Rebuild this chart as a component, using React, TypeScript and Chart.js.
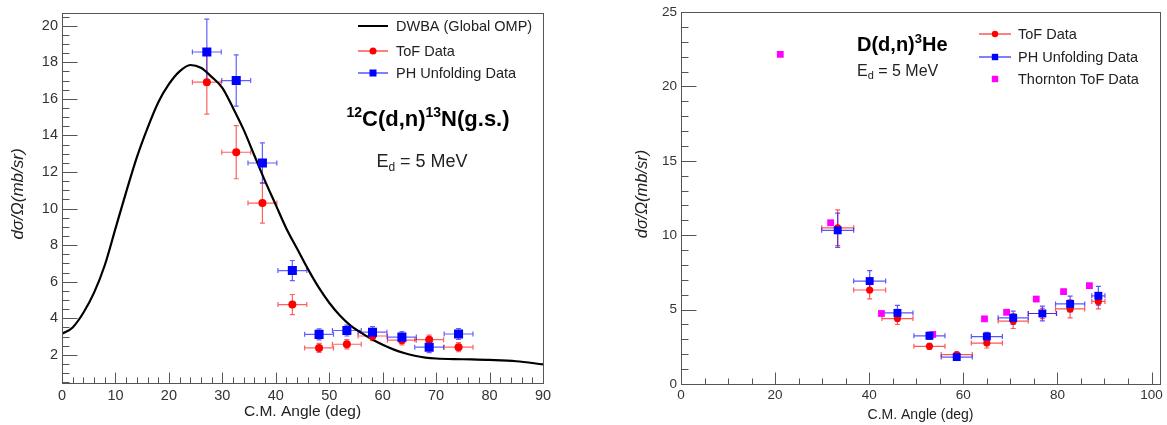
import React, { useEffect, useRef } from 'react';
import { Chart, registerables } from 'chart.js';
Chart.register(...registerables);

const FONT = "'Liberation Sans', Arial, Helvetica, sans-serif";

// ---------- Left panel: 12C(d,n)13N(g.s.) ----------
const dwbaAngle = [0, 2, 4, 6, 8, 10, 12, 14, 16, 18, 20, 22, 24, 26, 28, 30, 32, 34, 36, 38, 40, 42, 44, 46, 48, 50, 52, 54, 56, 58, 60, 62, 64, 66, 68, 70, 75, 80, 85, 90];
const dwbaXS = [3.15, 3.5, 4.3, 5.4, 6.9, 8.9, 10.9, 12.8, 14.4, 15.8, 16.8, 17.5, 17.85, 17.7, 17.2, 16.6, 15.5, 14.3, 12.9, 11.5, 10.2, 8.9, 7.8, 6.7, 5.7, 4.85, 4.15, 3.6, 3.2, 2.85, 2.55, 2.3, 2.1, 1.95, 1.85, 1.8, 1.76, 1.72, 1.65, 1.48];

const angleL = [27.1, 32.6, 37.5, 43.1, 48.1, 53.3, 58.1, 63.6, 68.7, 74.2];
const angleErrL = [2.7, 2.7, 2.7, 2.7, 2.7, 2.7, 2.7, 2.7, 2.7, 2.7];
const tofL = [16.91, 13.08, 10.3, 4.75, 2.38, 2.58, 3.03, 2.8, 2.83, 2.42];
const tofErrL = [1.75, 1.45, 1.1, 0.55, 0.25, 0.25, 0.25, 0.25, 0.25, 0.25];
const phL = [18.56, 17.0, 12.49, 6.61, 3.12, 3.33, 3.24, 2.97, 2.42, 3.14];
const phErrL = [1.8, 1.4, 1.1, 0.55, 0.3, 0.3, 0.3, 0.3, 0.3, 0.3];

const xTicksL = [0, 10, 20, 30, 40, 50, 60, 70, 80, 90];
const yTicksL = [2, 4, 6, 8, 10, 12, 14, 16, 18, 20];

// ---------- Right panel: D(d,n)3He ----------
const angleR = [33.3, 40.1, 46.0, 52.8, 58.6, 65.0, 70.6, 76.8, 82.7, 88.7];
const angleErrR = [3.4, 3.4, 3.3, 3.3, 3.3, 3.3, 3.2, 3.0, 3.1, 1.4];
const tofR = [10.5, 6.32, 4.4, 2.53, 1.98, 2.75, 4.23, 4.74, 5.05, 5.55];
const tofErrR = [1.2, 0.6, 0.4, 0.2, 0.15, 0.33, 0.5, 0.35, 0.6, 0.5];
const phR = [10.33, 6.92, 4.78, 3.24, 1.81, 3.19, 4.45, 4.74, 5.38, 5.93];
const phErrR = [1.15, 0.7, 0.5, 0.25, 0.15, 0.28, 0.45, 0.5, 0.53, 0.63];
const thorntonAngle = [21.1, 31.8, 42.6, 53.5, 64.5, 69.2, 75.5, 81.3, 86.8];
const thorntonXS = [22.16, 10.84, 4.74, 3.33, 4.38, 4.82, 5.71, 6.21, 6.61];

const xTicksR = [0, 20, 40, 60, 80, 100];
const yTicksR = [0, 5, 10, 15, 20, 25];

const pts = (xs: number[], ys: number[]) => xs.map((x, i) => ({ x, y: ys[i] }));

// Error bars drawn with the chart's scales
const errorBarPlugin = {
  id: 'errorBars',
  beforeDatasetsDraw(chart: any) {
    const ctx = chart.ctx;
    const xs = chart.scales.x;
    const ys = chart.scales.y;
    chart.data.datasets.forEach((ds: any) => {
      if (!ds.errY) return;
      ctx.save();
      ctx.strokeStyle = ds.errColor;
      ctx.lineWidth = 1.2;
      ds.data.forEach((p: any, i: number) => {
        const cx = xs.getPixelForValue(p.x);
        const cy = ys.getPixelForValue(p.y);
        const x0 = xs.getPixelForValue(p.x - ds.errX[i]);
        const x1 = xs.getPixelForValue(p.x + ds.errX[i]);
        const y0 = ys.getPixelForValue(p.y - ds.errY[i]);
        const y1 = ys.getPixelForValue(p.y + ds.errY[i]);
        const c = 2.5;
        ctx.beginPath();
        ctx.moveTo(x0, cy); ctx.lineTo(x1, cy);
        ctx.moveTo(x0, cy - c); ctx.lineTo(x0, cy + c);
        ctx.moveTo(x1, cy - c); ctx.lineTo(x1, cy + c);
        ctx.moveTo(cx, y0); ctx.lineTo(cx, y1);
        ctx.moveTo(cx - c, y0); ctx.lineTo(cx + c, y0);
        ctx.moveTo(cx - c, y1); ctx.lineTo(cx + c, y1);
        ctx.stroke();
      });
      ctx.restore();
    });
  },
};

type FrameCfg = { xMinor: number; yMinor: number; xMaj: number; xMin: number; yMaj: number; yMin: number };

const makeFramePlugin = (cfg: FrameCfg) => ({
  id: 'rootFrame',
  afterDraw(chart: any) {
    const ctx = chart.ctx;
    const a = chart.chartArea;
    const xs = chart.scales.x;
    const ys = chart.scales.y;
    ctx.save();
    ctx.strokeStyle = '#555';
    ctx.lineWidth = 1;
    ctx.strokeRect(Math.round(a.left) + 0.5, Math.round(a.top) + 0.5, Math.round(a.right - a.left), Math.round(a.bottom - a.top));
    ctx.beginPath();
    const b = Math.round(a.bottom) + 0.5;
    const l = Math.round(a.left) + 0.5;
    for (let v = Math.ceil(xs.min / cfg.xMinor) * cfg.xMinor; v <= xs.max + 1e-9; v += cfg.xMinor) {
      const px = Math.round(xs.getPixelForValue(v)) + 0.5;
      const isMaj = xs.ticks.some((t: any) => Math.abs(t.value - v) < 1e-6);
      ctx.moveTo(px, b);
      ctx.lineTo(px, b - (isMaj ? cfg.xMaj : cfg.xMin));
    }
    for (let v = Math.ceil(ys.min / cfg.yMinor) * cfg.yMinor; v <= ys.max + 1e-9; v += cfg.yMinor) {
      const py = Math.round(ys.getPixelForValue(v)) + 0.5;
      const isMaj = ys.ticks.some((t: any) => Math.abs(t.value - v) < 1e-6);
      ctx.moveTo(l, py);
      ctx.lineTo(l + (isMaj ? cfg.yMaj : cfg.yMin), py);
    }
    ctx.stroke();
    ctx.restore();
  },
});

type Part = { t: string; f: string; dy?: number };
function drawRich(ctx: CanvasRenderingContext2D, parts: Part[], x: number, y: number, align: 'left' | 'center') {
  ctx.textAlign = 'left';
  ctx.textBaseline = 'alphabetic';
  let total = 0;
  parts.forEach((p) => { ctx.font = p.f; total += ctx.measureText(p.t).width; });
  let cx = align === 'center' ? x - total / 2 : x;
  parts.forEach((p) => {
    ctx.font = p.f;
    ctx.fillText(p.t, cx, y + (p.dy || 0));
    cx += ctx.measureText(p.t).width;
  });
}

function drawYTitle(ctx: CanvasRenderingContext2D, x: number, y: number, size: number) {
  ctx.save();
  ctx.translate(x, y);
  ctx.rotate(-Math.PI / 2);
  ctx.fillStyle = '#222';
  ctx.font = `italic ${size}px ${FONT}`;
  ctx.textAlign = 'center';
  ctx.textBaseline = 'middle';
  ctx.fillText('dσ/Ω(mb/sr)', 0, 0);
  ctx.restore();
}

function legendRow(ctx: CanvasRenderingContext2D, x0: number, x1: number, y: number, color: string, marker: 'none' | 'circle' | 'rect', line: boolean, lw: number, mSize: number, text: string, tx: number, fsize: number) {
  ctx.save();
  if (line) {
    ctx.strokeStyle = color;
    ctx.lineWidth = lw;
    ctx.beginPath();
    ctx.moveTo(x0, y);
    ctx.lineTo(x1, y);
    ctx.stroke();
  }
  const cx = (x0 + x1) / 2;
  ctx.fillStyle = color;
  if (marker === 'circle') {
    ctx.beginPath();
    ctx.arc(cx, y, mSize, 0, Math.PI * 2);
    ctx.fill();
  } else if (marker === 'rect') {
    ctx.fillRect(cx - mSize, y - mSize, mSize * 2, mSize * 2);
  }
  ctx.fillStyle = '#222';
  ctx.font = `${fsize}px ${FONT}`;
  ctx.textAlign = 'left';
  ctx.textBaseline = 'middle';
  ctx.fillText(text, tx, y + 1);
  ctx.restore();
}

const leftAnnot = {
  id: 'leftAnnot',
  afterDraw(chart: any) {
    const ctx = chart.ctx as CanvasRenderingContext2D;
    legendRow(ctx, 358, 388, 26, '#000', 'none', true, 2, 0, 'DWBA (Global OMP)', 396, 14.5);
    legendRow(ctx, 358, 388, 51, '#ff0000', 'circle', true, 1, 3.5, 'ToF Data', 396, 14.5);
    legendRow(ctx, 358, 388, 73, '#0000ff', 'rect', true, 1, 3.5, 'PH Unfolding Data', 396, 14.5);
    ctx.save();
    ctx.fillStyle = '#000';
    drawRich(ctx, [
      { t: '12', f: `bold 14px ${FONT}`, dy: -9 },
      { t: 'C(d,n)', f: `bold 22px ${FONT}` },
      { t: '13', f: `bold 14px ${FONT}`, dy: -9 },
      { t: 'N(g.s.)', f: `bold 22px ${FONT}` },
    ], 428, 126, 'center');
    ctx.fillStyle = '#222';
    drawRich(ctx, [
      { t: 'E', f: `18px ${FONT}` },
      { t: 'd', f: `12px ${FONT}`, dy: 4 },
      { t: ' = 5 MeV', f: `18px ${FONT}` },
    ], 422, 167, 'center');
    drawYTitle(ctx, 18, 194, 17);
    ctx.fillStyle = '#222';
    ctx.font = `15.5px ${FONT}`;
    ctx.textAlign = 'center';
    ctx.textBaseline = 'alphabetic';
    ctx.fillText('C.M. Angle (deg)', 302.5, 416);
    ctx.restore();
  },
};

const rightAnnot = {
  id: 'rightAnnot',
  afterDraw(chart: any) {
    const ctx = chart.ctx as CanvasRenderingContext2D;
    legendRow(ctx, 379, 411, 34, '#ff0000', 'circle', true, 1, 3.2, 'ToF Data', 418, 14.5);
    legendRow(ctx, 379, 411, 57, '#0000ff', 'rect', true, 1, 3.2, 'PH Unfolding Data', 418, 14.5);
    legendRow(ctx, 379, 411, 79, '#ff00ff', 'rect', false, 1, 3.2, 'Thornton ToF Data', 418, 14.5);
    ctx.save();
    ctx.fillStyle = '#000';
    drawRich(ctx, [
      { t: 'D(d,n)', f: `bold 20px ${FONT}` },
      { t: '3', f: `bold 13px ${FONT}`, dy: -8 },
      { t: 'He', f: `bold 20px ${FONT}` },
    ], 257, 50.5, 'left');
    ctx.fillStyle = '#222';
    drawRich(ctx, [
      { t: 'E', f: `16px ${FONT}` },
      { t: 'd', f: `11px ${FONT}`, dy: 3 },
      { t: ' = 5 MeV', f: `16px ${FONT}` },
    ], 257, 76, 'left');
    drawYTitle(ctx, 42, 194, 16.5);
    ctx.fillStyle = '#222';
    ctx.font = `14px ${FONT}`;
    ctx.textAlign = 'center';
    ctx.textBaseline = 'alphabetic';
    ctx.fillText('C.M. Angle (deg)', 320.5, 419);
    ctx.restore();
  },
};

function leftConfig(): any {
  return {
    type: 'scatter',
    data: {
      datasets: [
        {
          type: 'line', label: 'DWBA (Global OMP)', data: pts(dwbaAngle, dwbaXS),
          borderColor: '#000', borderWidth: 2.2, pointRadius: 0, fill: false,
          cubicInterpolationMode: 'monotone', order: 2,
        },
        {
          label: 'ToF Data', data: pts(angleL, tofL), pointStyle: 'circle', pointRadius: 4,
          backgroundColor: '#ff0000', borderColor: '#ff0000', borderWidth: 0, order: 1,
          errX: angleErrL, errY: tofErrL, errColor: 'rgba(255,30,30,0.7)',
        },
        {
          label: 'PH Unfolding Data', data: pts(angleL, phL), pointStyle: 'rect', pointRadius: 6.4,
          backgroundColor: '#0000ff', borderColor: '#0000ff', borderWidth: 0, order: 0,
          errX: angleErrL, errY: phErrL, errColor: 'rgba(30,30,255,0.7)',
        },
      ],
    },
    options: {
      responsive: false, animation: false, devicePixelRatio: 1,
      layout: { padding: { top: 5, right: 37, left: 0, bottom: 0 } },
      plugins: { legend: { display: false }, tooltip: { enabled: false } },
      scales: {
        x: {
          type: 'linear', min: 0, max: 90,
          grid: { display: false, drawTicks: false }, border: { display: false },
          afterBuildTicks: (s: any) => { s.ticks = xTicksL.map((v) => ({ value: v })); },
          afterFit: (s: any) => { s.height = 42; },
          ticks: { padding: 4, color: '#333', font: { family: FONT, size: 14.5 }, maxRotation: 0, autoSkip: false },
        },
        y: {
          type: 'linear', min: 0.46, max: 20.71,
          grid: { display: false, drawTicks: false }, border: { display: false },
          afterBuildTicks: (s: any) => { s.ticks = yTicksL.map((v) => ({ value: v })); },
          afterFit: (s: any) => { s.width = 62; },
          ticks: { padding: 4, color: '#333', font: { family: FONT, size: 14.5 }, autoSkip: false },
        },
      },
    },
    plugins: [errorBarPlugin, makeFramePlugin({ xMinor: 2, yMinor: 0.5, xMaj: 11, xMin: 6, yMaj: 15, yMin: 7 }), leftAnnot],
  };
}

function rightConfig(): any {
  return {
    type: 'scatter',
    data: {
      datasets: [
        {
          label: 'ToF Data', data: pts(angleR, tofR), pointStyle: 'circle', pointRadius: 3.6,
          backgroundColor: '#ff0000', borderColor: '#ff0000', borderWidth: 0, order: 1,
          errX: angleErrR, errY: tofErrR, errColor: 'rgba(255,30,30,0.75)',
        },
        {
          label: 'PH Unfolding Data', data: pts(angleR, phR), pointStyle: 'rect', pointRadius: 5.6,
          backgroundColor: '#0000ff', borderColor: '#0000ff', borderWidth: 0, order: 0,
          errX: angleErrR, errY: phErrR, errColor: 'rgba(30,30,255,0.75)',
        },
        {
          label: 'Thornton ToF Data', data: pts(thorntonAngle, thorntonXS), pointStyle: 'rect', pointRadius: 4.8,
          backgroundColor: '#ff00ff', borderColor: '#ff00ff', borderWidth: 0, order: 3,
        },
      ],
    },
    options: {
      responsive: false, animation: false, devicePixelRatio: 1,
      layout: { padding: { top: 6, right: 7, left: 0, bottom: 0 } },
      plugins: { legend: { display: false }, tooltip: { enabled: false } },
      scales: {
        x: {
          type: 'linear', min: 0, max: 101.8,
          grid: { display: false, drawTicks: false }, border: { display: false },
          afterBuildTicks: (s: any) => { s.ticks = xTicksR.map((v) => ({ value: v })); },
          afterFit: (s: any) => { s.height = 41; },
          ticks: { padding: 3, color: '#333', font: { family: FONT, size: 13.5 }, maxRotation: 0, autoSkip: false },
        },
        y: {
          type: 'linear', min: 0, max: 25,
          grid: { display: false, drawTicks: false }, border: { display: false },
          afterBuildTicks: (s: any) => { s.ticks = yTicksR.map((v) => ({ value: v })); },
          afterFit: (s: any) => { s.width = 81; },
          ticks: { padding: 4, color: '#333', font: { family: FONT, size: 13.5 }, autoSkip: false },
        },
      },
    },
    plugins: [errorBarPlugin, makeFramePlugin({ xMinor: 5, yMinor: 1, xMaj: 12, xMin: 6, yMaj: 15, yMin: 7 }), rightAnnot],
  };
}

function ChartCanvas({ make, left, width }: { make: () => any; left: number; width: number }) {
  const ref = useRef<HTMLCanvasElement>(null);
  useEffect(() => {
    const chart = new Chart(ref.current as HTMLCanvasElement, make());
    return () => chart.destroy();
  }, []);
  return (
    <canvas
      ref={ref}
      width={width}
      height={425}
      style={{ position: 'absolute', left, top: 0, width, height: 425, display: 'block' }}
    />
  );
}

export default function App() {
  return (
    <div style={{ position: 'fixed', left: 0, top: 0, width: 1167, height: 425, background: '#fff', overflow: 'hidden' }}>
      <ChartCanvas make={leftConfig} left={0} width={580} />
      <ChartCanvas make={rightConfig} left={600} width={567} />
    </div>
  );
}
